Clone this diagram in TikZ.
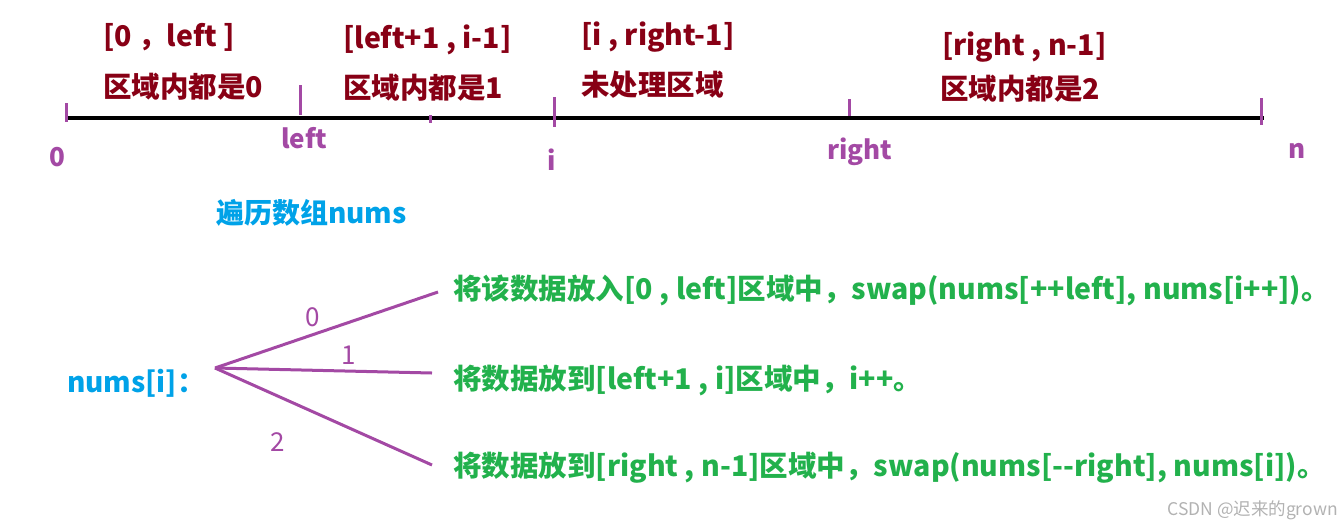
\documentclass[tikz,border=0pt]{standalone}
\usepackage{fontspec}
\setmainfont{Noto Sans CJK SC}
\definecolor{dred}{HTML}{880015}
\definecolor{purp}{HTML}{A349A4}
\definecolor{sky}{HTML}{00A2E8}
\definecolor{grn}{HTML}{22B14C}
\tikzset{
  region/.style={text=dred,font=\bfseries\fontsize{28.5}{32}\selectfont,anchor=west,inner sep=0pt},
  poslabel/.style={text=purp,font=\bfseries\fontsize{26}{30}\selectfont,inner sep=0pt},
  tickline/.style={purp,line width=3pt},
  axisline/.style={black,line width=4pt},
  branch/.style={purp,line width=3pt},
  act/.style={text=grn,font=\bfseries\fontsize{28.5}{32}\selectfont,anchor=west,inner sep=0pt},
  bluetxt/.style={text=sky,font=\bfseries\fontsize{28}{32}\selectfont,anchor=west,inner sep=0pt},
  numlabel/.style={text=purp,font=\fontsize{26}{30}\selectfont,inner sep=0pt},
}
\begin{document}
\begin{tikzpicture}[x=1pt,y=-1pt]
\useasboundingbox (0,0) rectangle (1343,531);
% axis
\coordinate (a0) at (65,118);
\coordinate (an) at (1264,118);
\draw[axisline] (a0) -- (an);
% ticks
\coordinate (t0a) at (66,103); \coordinate (t0b) at (66,122);
\coordinate (t1a) at (300,85); \coordinate (t1b) at (300,115);
\coordinate (t2a) at (430,115); \coordinate (t2b) at (430,123);
\coordinate (t3a) at (554,97); \coordinate (t3b) at (554,127);
\coordinate (t4a) at (849,99); \coordinate (t4b) at (849,116);
\coordinate (t5a) at (1261,98); \coordinate (t5b) at (1261,125);
\draw[tickline] (t0a) -- (t0b);
\draw[tickline] (t1a) -- (t1b);
\draw[tickline] (t2a) -- (t2b);
\draw[tickline] (t3a) -- (t3b);
\draw[tickline] (t4a) -- (t4b);
\draw[tickline] (t5a) -- (t5b);
% region labels
\node[region] (r1a) at (103,37) {[0 ，left ]};
\node[region] (r1b) at (103,87) {区域内都是0};
\node[region] (r2a) at (343,40) {[left+1 , i-1]};
\node[region] (r2b) at (343,88) {区域内都是1};
\node[region] (r3a) at (581,37) {[i , right-1]};
\node[region] (r3b) at (581,85) {未处理区域};
\node[region] (r4a) at (942,47) {[right , n-1]};
\node[region] (r4b) at (940,89) {区域内都是2};
% position labels
\node[poslabel] (p0) at (57,157) {0};
\node[poslabel] (pl) at (304,138) {left};
\node[poslabel] (pi) at (552,160) {i};
\node[poslabel] (pr) at (860,152) {right};
\node[poslabel] (pn) at (1297,151) {n};
% traversal
\node[bluetxt] (trav) at (216,213) {遍历数组nums};
\node[bluetxt] (numsi) at (67,383) {nums[i]：};
\coordinate (fork) at (215,368);
\node[act] (c0) at (453,290) {将该数据放入[0 , left]区域中，swap(nums[++left], nums[i++])。};
\node[act] (c1) at (453,380) {将数据放到[left+1 , i]区域中，i++。};
\node[act] (c2) at (453,468) {将数据放到[right , n-1]区域中，swap(nums[-{}-right], nums[i])。};
\coordinate (e0) at (438,292);
\coordinate (e1) at (432,373);
\coordinate (e2) at (432,465);
\draw[branch] (fork) -- (e0);
\draw[branch] (fork) -- (e1);
\draw[branch] (fork) -- (e2);
\node[numlabel] (n0) at (313,317) {0};
\node[numlabel] (n1) at (349,355) {1};
\node[numlabel] (n2) at (278,442) {2};
% watermark
\node[text=black!30,font=\fontsize{17.5}{21}\selectfont,anchor=east,inner sep=0pt] (wm) at (1338,510) {CSDN @迟来的grown};
\end{tikzpicture}
\end{document}
